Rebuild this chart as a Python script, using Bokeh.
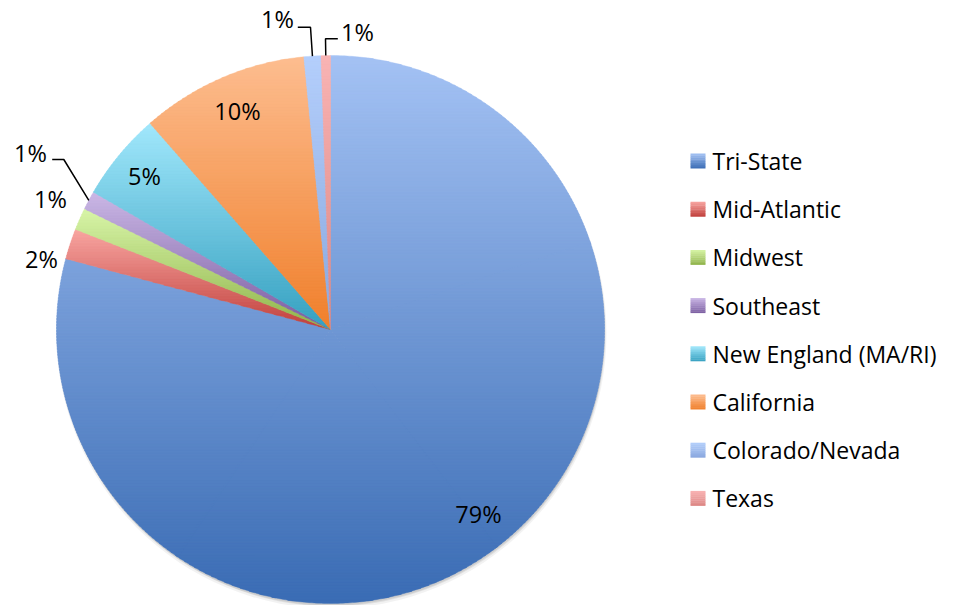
import numpy as np
from bokeh.plotting import figure
from bokeh.models import Range1d, ColumnDataSource
from bokeh.embed import file_html
from bokeh.resources import INLINE
from bokeh.core.properties import value

# ---------------- data ----------------
regions = ["Tri-State", "Mid-Atlantic", "Midwest", "Southeast",
           "New England (MA/RI)", "California", "Colorado/Nevada", "Texas"]
shares = [79.2, 1.8, 1.3, 1.1, 5.2, 9.9, 1.0, 0.55]

# gradient colours (top -> bottom) for each slice
top_colors = ["#a4c2f4", "#f9a6a2", "#d8f5a8", "#cbb8e6", "#a2e8fc", "#fdbd90", "#b4cffc", "#f9b4b4"]
bottom_colors = ["#3a6cb4", "#c0403c", "#8fb34a", "#7a5ca0", "#35a0c0", "#f0802c", "#8aa8de", "#dc8684"]

# ---------------- layout (page pixel coordinates) ----------------
CX, CY, R = 330.0, 329.0, 274.0
label_x = [478, 41, 50, 30, 144, 237, 277, 357]
label_y = [513, 258, 198, 152, 175, 110, 18, 31]
# leader lines: slice index -> (label-side x, y, elbow x, y)
leaders = {3: (51.7, 159.0, 63.3, 159.0),
           6: (297.3, 26.7, 310.0, 26.7),
           7: (337.3, 38.3, 325.0, 38.3)}
LEG_SQ_X0, LEG_SQ_X1 = 690, 705
LEG_TEXT_X = 712
LEG_Y0, LEG_DY = 160.5, 48.2

W, H = 965, 605
p = figure(width=W, height=H, output_backend="svg", toolbar_location=None,
           x_range=Range1d(0, W), y_range=Range1d(H, 0),
           min_border=0)
p.axis.visible = False
p.grid.visible = False
p.outline_line_color = None
p.background_fill_color = "white"
p.border_fill_color = "white"


def hex2rgb(h):
    h = h.lstrip("#")
    return np.array([int(h[i:i + 2], 16) for i in (0, 2, 4)], dtype=float)


def lerp(c0, c1, t):
    c = hex2rgb(c0) * (1 - t) + hex2rgb(c1) * t
    return "#%02x%02x%02x" % tuple(int(round(v)) for v in c)


def clip_half(poly, y0, sign):
    out = []
    n = len(poly)
    for i in range(n):
        P = poly[i - 1]
        Q = poly[i]
        ip = sign * (P[1] - y0) >= 0
        iq = sign * (Q[1] - y0) >= 0
        if iq:
            if not ip:
                t = (y0 - P[1]) / (Q[1] - P[1])
                out.append((P[0] + t * (Q[0] - P[0]), y0))
            out.append(Q)
        elif ip:
            t = (y0 - P[1]) / (Q[1] - P[1])
            out.append((P[0] + t * (Q[0] - P[0]), y0))
    return out


def pt(theta_deg, r):
    th = np.radians(theta_deg)
    return (CX + r * np.sin(th), CY - r * np.cos(th))


# shadow
for dx, dy, dr, a in [(1, 4, 1, 0.05), (1, 3, 0, 0.07), (0.5, 2, 0, 0.08)]:
    p.circle(x=[CX + dx], y=[CY + dy], radius=R + dr, fill_color="black",
             fill_alpha=a, line_color=None)

total = float(sum(shares))
fracs = [s / total for s in shares]
starts = np.concatenate([[0.0], np.cumsum(fracs)[:-1]]) * 360.0
ends = np.cumsum(fracs) * 360.0

xs, ys, cols = [], [], []
BAND = 3.0
for i in range(len(regions)):
    a0, a1 = starts[i], ends[i]
    npieces = int(np.ceil((a1 - a0) / 90.0))
    edges = np.linspace(a0, a1, npieces + 1)
    pieces = []
    allpts = [(CX, CY)]
    for k in range(npieces):
        e0 = edges[k]
        e1 = edges[k + 1] + (0.6 if k < npieces - 1 else 0.0)  # overlap internal seams
        nseg = max(2, int(np.ceil((e1 - e0) / 0.5)))
        arc = [pt(t, R) for t in np.linspace(e0, e1, nseg + 1)]
        pieces.append([(CX, CY)] + arc)
        allpts += arc
    ymin = min(q[1] for q in allpts)
    ymax = max(q[1] for q in allpts)
    nb = max(1, int(np.ceil((ymax - ymin) / BAND)))
    bedges = np.linspace(ymin, ymax, nb + 1)
    for b in range(nb):
        y0, y1 = bedges[b], bedges[b + 1]
        t = ((y0 + y1) / 2 - ymin) / (ymax - ymin) if ymax > ymin else 0.5
        col = lerp(top_colors[i], bottom_colors[i], t)
        for piece in pieces:
            c = clip_half(piece, y0 - 0.4, +1)
            if len(c) < 3:
                continue
            c = clip_half(c, y1 + 0.4, -1)
            if len(c) < 3:
                continue
            xs.append([q[0] for q in c])
            ys.append([q[1] for q in c])
            cols.append(col)

p.patches(xs="xs", ys="ys", fill_color="cols", line_color="cols", line_width=0.4,
          source=ColumnDataSource(dict(xs=xs, ys=ys, cols=cols)))

# percentage labels
labels = ["%d%%" % max(1, int(round(f * 100))) for f in fracs]
p.text(x=label_x, y=label_y, text=labels, text_font=value("Open Sans"),
       text_font_size="23.5px", text_align="center", text_baseline="middle",
       text_color="black")

# leader lines
for i, (lx, ly, ex, ey) in leaders.items():
    mid = (starts[i] + ends[i]) / 2.0
    sx, sy = pt(mid, R)
    p.line(x=[lx, ex, sx], y=[ly, ey, sy], line_color="black", line_width=1.5)

# legend (gradient squares)
qL, qR, qT, qB, qC = [], [], [], [], []
NBL = 8
for i in range(len(regions)):
    yc = LEG_Y0 + i * LEG_DY
    step = 15.0 / NBL
    for b in range(NBL):
        y0 = yc - 7.5 + b * step
        qL.append(LEG_SQ_X0)
        qR.append(LEG_SQ_X1)
        qT.append(y0)
        qB.append(y0 + step + (0.3 if b < NBL - 1 else 0.0))
        qC.append(lerp(top_colors[i], bottom_colors[i], (b + 0.5) / NBL))
p.quad(left=qL, right=qR, top=qT, bottom=qB, fill_color=qC, line_color=None)

leg_y = [LEG_Y0 + i * LEG_DY for i in range(len(regions))]
p.text(x=[LEG_TEXT_X] * len(regions), y=leg_y, text=regions,
       text_font=value("Open Sans"), text_font_size="23px", text_align="left",
       text_baseline="middle", text_color="black")

open("out.html", "w").write(file_html(p, INLINE))
